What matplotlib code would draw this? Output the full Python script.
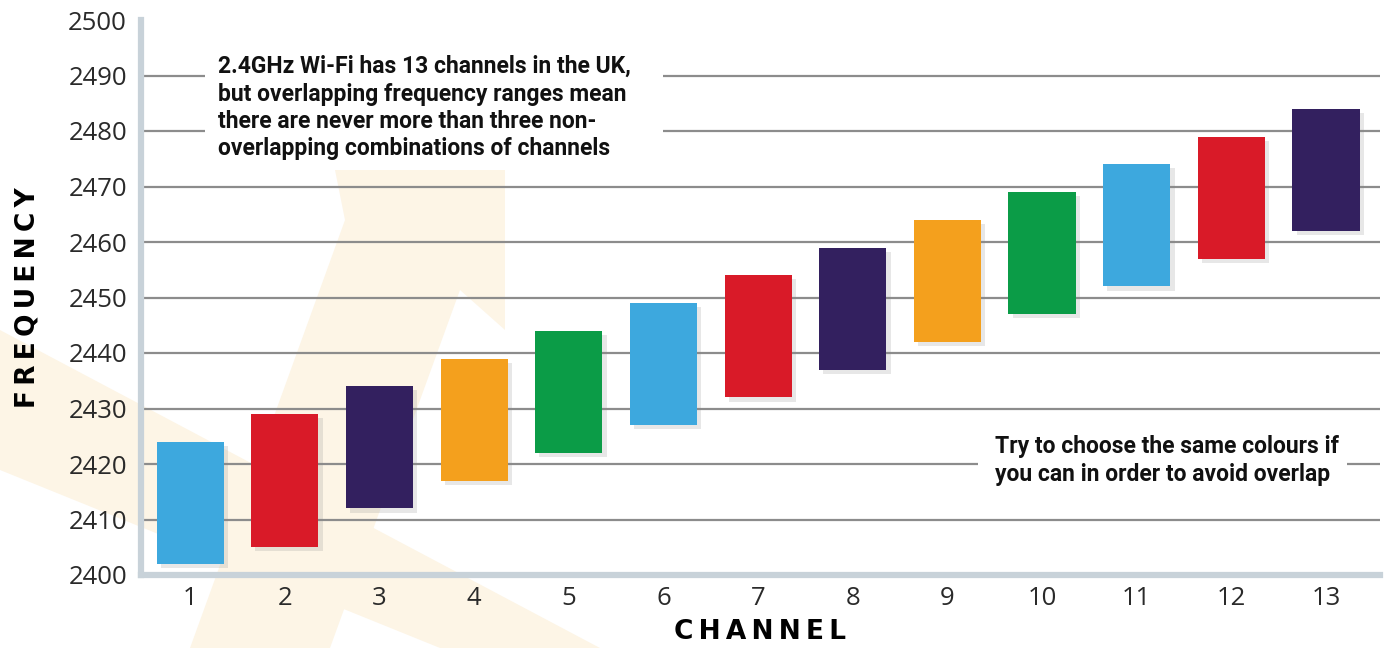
import matplotlib
matplotlib.use("Agg")
import matplotlib.pyplot as plt
import matplotlib.patheffects as pe
from matplotlib.patches import Polygon, Rectangle

# channel data (MHz)
channels = [1, 2, 3, 4, 5, 6, 7, 8, 9, 10, 11, 12, 13]
freq_low = [2402, 2405, 2412, 2417, 2422, 2427, 2432, 2437, 2442, 2447, 2452, 2457, 2462]
freq_high = [2424, 2429, 2434, 2439, 2444, 2449, 2454, 2459, 2464, 2469, 2474, 2479, 2484]
bar_colors = ["#3DA8DE", "#D91A28", "#33205F", "#F4A01D", "#0B9C47"] * 3
y_ticks = list(range(2400, 2501, 10))
grid_levels = list(range(2410, 2491, 10))

note_top = ("2.4GHz Wi-Fi has 13 channels in the UK,\n"
            "but overlapping frequency ranges mean\n"
            "there are never more than three non-\n"
            "overlapping combinations of channels")
note_right = ("Try to choose the same colours if\n"
              "you can in order to avoid overlap")

W, H = 1387, 648
fig = plt.figure(figsize=(W / 100, H / 100), dpi=100)


def fx(px):
    return px / W


def fy(py):
    return 1 - py / H


# faint watermark arrows in the background
cream = "#FDF5E6"
arrow = [(505, 170), (505, 330), (460, 290), (330, 648), (190, 648), (345, 220), (335, 170)]
band = [(0, 330), (0, 470), (440, 648), (600, 648)]
for shape in (arrow, band):
    fig.patches.append(Polygon([(fx(x), fy(y)) for x, y in shape], closed=True,
                               transform=fig.transFigure, facecolor=cream,
                               edgecolor="none", zorder=-5))

ax = fig.add_axes([fx(141), fy(575), fx(1380) - fx(141), fy(20) - fy(575)])
ax.set_facecolor("none")
ax.set_xlim(0.48, 13.57)
ax.set_ylim(2400, 2500)

ax.hlines(grid_levels, 0.48, 13.57, color="#8C8C8C", lw=1.6, zorder=1)

heights = [h - l for l, h in zip(freq_low, freq_high)]
bars = ax.bar(channels, heights, bottom=freq_low, width=0.71, color=bar_colors, zorder=3)
for b in bars:
    b.set_path_effects([pe.SimplePatchShadow(offset=(3, -3), shadow_rgbFace="#888888", alpha=0.2),
                        pe.Normal()])

for s in ("top", "right"):
    ax.spines[s].set_visible(False)
for s in ("left", "bottom"):
    ax.spines[s].set_color("#C8D2D9")
    ax.spines[s].set_linewidth(4.5)
    ax.spines[s].set_zorder(2)

ax.set_yticks(y_ticks)
ax.set_xticks(channels)
ax.tick_params(length=0, labelsize=18.5, labelcolor="#2A2A2A")
ax.tick_params(axis="y", pad=10)
ax.tick_params(axis="x", pad=8)
for lab in ax.get_xticklabels() + ax.get_yticklabels():
    lab.set_family(["Open Sans", "DejaVu Sans"])

ax.set_xlabel("C\u2009H\u2009A\u2009N\u2009N\u2009E\u2009L", fontsize=19, fontweight="heavy",
              family="DejaVu Sans", labelpad=6)
fig.text(fx(28), fy(298), "F\u2009R\u2009E\u2009Q\u2009U\u2009E\u2009N\u2009C\u2009Y", rotation=90,
         fontsize=19, fontweight="heavy", family="DejaVu Sans", ha="center", va="center")

# white boxes behind the notes, cutting the gridlines
fig.patches.append(Rectangle((fx(205), fy(168)), fx(663) - fx(205), fy(52) - fy(168),
                             transform=fig.transFigure, facecolor="white", edgecolor="none", zorder=4))
fig.patches.append(Rectangle((fx(978), fy(495)), fx(1347) - fx(978), fy(432) - fy(495),
                             transform=fig.transFigure, facecolor="white", edgecolor="none", zorder=4))

note_font = ["Roboto", "DejaVu Sans"]
fig.text(fx(218), fy(55), note_top, fontsize=16.5, fontweight="bold", family=note_font,
         ha="left", va="top", linespacing=1.25, color="#111111", zorder=5)
fig.text(fx(995), fy(435), note_right, fontsize=16.5, fontweight="bold", family=note_font,
         ha="left", va="top", linespacing=1.25, color="#111111", zorder=5)

fig.savefig("out.png", dpi=100, facecolor="white")
